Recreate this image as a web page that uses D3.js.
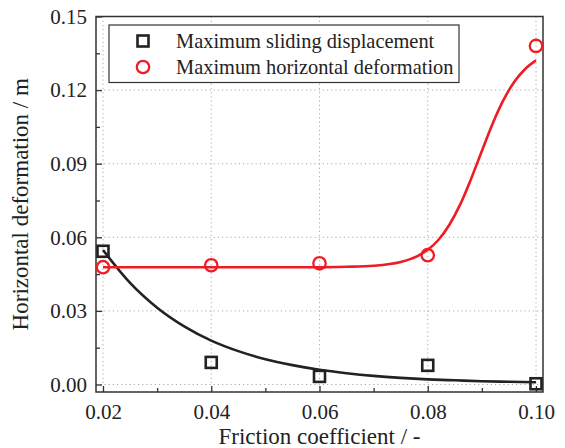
<!DOCTYPE html>
<html>
<head>
<meta charset="utf-8">
<script src="https://cdn.jsdelivr.net/npm/d3@7"></script>
<style>
  html, body { margin: 0; padding: 0; background: #fff; }
  svg { display: block; }
  text { font-family: "Liberation Serif", "Times New Roman", serif; fill: #222; }
</style>
</head>
<body>
<svg id="chart" width="565" height="448"></svg>
<script>
// Friction coefficient levels
const friction = [0.02, 0.04, 0.06, 0.08, 0.10];
// Measured maxima (m)
const slidingDisp = [0.0543, 0.0090, 0.0033, 0.0078, 0.0003];
const horizDeform = [0.0478, 0.0486, 0.0494, 0.0527, 0.1380];

// Fitted trend of the sliding displacement (decay curve)
const slideFitX = [0.020, 0.025, 0.030, 0.035, 0.040, 0.045, 0.050, 0.055, 0.060, 0.065, 0.070, 0.075, 0.080, 0.085, 0.090, 0.095, 0.100];
const slideFitY = [0.0548, 0.0414, 0.0313, 0.0237, 0.0179, 0.0136, 0.0103, 0.0079, 0.0060, 0.0046, 0.0035, 0.0027, 0.0021, 0.0017, 0.0013, 0.0011, 0.0009];

// Fitted trend of the horizontal deformation (S-shaped curve)
const deformFitX = [0.020, 0.030, 0.040, 0.050, 0.060, 0.065, 0.070, 0.075, 0.078, 0.080, 0.082, 0.084, 0.086, 0.088, 0.090, 0.092, 0.094, 0.096, 0.098, 0.100];
const deformFitY = [0.0478, 0.0478, 0.0478, 0.0478, 0.0478, 0.0480, 0.0484, 0.0499, 0.0522, 0.0549, 0.0590, 0.0651, 0.0734, 0.0838, 0.0952, 0.1064, 0.1160, 0.1234, 0.1286, 0.1321];

// Axis ticks
const xTicks = [0.02, 0.04, 0.06, 0.08, 0.10];
const xMinor = [0.03, 0.05, 0.07, 0.09];
const yTicks = [0.00, 0.03, 0.06, 0.09, 0.12, 0.15];
const yMinor = [0.015, 0.045, 0.075, 0.105, 0.135];

const seriesNames = ["Maximum sliding displacement", "Maximum horizontal deformation"];
const seriesColors = ["#222222", "#ee1c25"];

const svg = d3.select("#chart");
const plotL = 96, plotR = 543, plotT = 16.5, plotB = 392;

const x = d3.scaleLinear()
  .domain([0.02 - 7 / 5412.5, 0.10 + 7 / 5412.5])
  .range([plotL, plotR]);
const y = d3.scaleLinear()
  .domain([-7.5 / 2450, 0.15])
  .range([plotB, plotT]);

// dotted grid
const grid = svg.append("g").attr("stroke", "#aaa").attr("stroke-width", 1).attr("stroke-dasharray", "1.2,3");
grid.selectAll("line.v").data(xTicks).join("line").attr("class", "v")
  .attr("x1", d => x(d)).attr("x2", d => x(d))
  .attr("y1", plotT).attr("y2", plotB);
grid.selectAll("line.h").data(yTicks).join("line").attr("class", "h")
  .attr("x1", plotL).attr("x2", plotR)
  .attr("y1", d => y(d)).attr("y2", d => y(d));

// axes with inward ticks
const fmt = d3.format(".2f");
const xAxis = svg.append("g").attr("transform", `translate(0,${plotB})`)
  .call(d3.axisBottom(x).tickValues(xTicks).tickSize(-6).tickPadding(12).tickFormat(fmt));
const xAxisMinor = svg.append("g").attr("transform", `translate(0,${plotB})`)
  .call(d3.axisBottom(x).tickValues(xMinor).tickSize(-4).tickFormat(""));
const yAxis = svg.append("g").attr("transform", `translate(${plotL},0)`)
  .call(d3.axisLeft(y).tickValues(yTicks).tickSize(-6).tickPadding(9).tickFormat(fmt));
const yAxisMinor = svg.append("g").attr("transform", `translate(${plotL},0)`)
  .call(d3.axisLeft(y).tickValues(yMinor).tickSize(-4).tickFormat(""));

[xAxis, xAxisMinor, yAxis, yAxisMinor].forEach(g => {
  g.select(".domain").remove();
  g.selectAll(".tick line").attr("stroke", "#333").attr("stroke-width", 1.3);
  g.selectAll("text").attr("font-family", "Liberation Serif").attr("font-size", 21).attr("fill", "#222");
});

// frame
svg.append("rect")
  .attr("x", plotL).attr("y", plotT)
  .attr("width", plotR - plotL).attr("height", plotB - plotT)
  .attr("fill", "none").attr("stroke", "#333").attr("stroke-width", 1.5);

// fit lines
const line = d3.line().x(d => x(d[0])).y(d => y(d[1])).curve(d3.curveMonotoneX);
svg.append("path")
  .datum(d3.zip(slideFitX, slideFitY))
  .attr("d", line).attr("fill", "none")
  .attr("stroke", seriesColors[0]).attr("stroke-width", 2.6);
svg.append("path")
  .datum(d3.zip(deformFitX, deformFitY))
  .attr("d", line).attr("fill", "none")
  .attr("stroke", seriesColors[1]).attr("stroke-width", 2.6);

// markers
const sq = 11;
svg.append("g").selectAll("rect").data(d3.zip(friction, slidingDisp)).join("rect")
  .attr("x", d => x(d[0]) - sq / 2).attr("y", d => y(d[1]) - sq / 2)
  .attr("width", sq).attr("height", sq)
  .attr("fill", "none").attr("stroke", seriesColors[0]).attr("stroke-width", 2.6);
svg.append("g").selectAll("circle").data(d3.zip(friction, horizDeform)).join("circle")
  .attr("cx", d => x(d[0])).attr("cy", d => y(d[1])).attr("r", 6.2)
  .attr("fill", "none").attr("stroke", seriesColors[1]).attr("stroke-width", 2.3);

// legend
const lg = svg.append("g");
lg.append("rect").attr("x", 109).attr("y", 25).attr("width", 350).attr("height", 57.5)
  .attr("fill", "#fff").attr("stroke", "#333").attr("stroke-width", 1.2);
lg.append("rect").attr("x", 143 - sq / 2).attr("y", 41 - sq / 2).attr("width", sq).attr("height", sq)
  .attr("fill", "none").attr("stroke", seriesColors[0]).attr("stroke-width", 2.6);
lg.append("circle").attr("cx", 143).attr("cy", 67).attr("r", 6.2)
  .attr("fill", "none").attr("stroke", seriesColors[1]).attr("stroke-width", 2.3);
lg.selectAll("text").data(seriesNames).join("text")
  .attr("x", 176).attr("y", (d, i) => 47.5 + i * 26)
  .attr("font-size", 20.4).text(d => d);

// axis titles
svg.append("text")
  .attr("x", (plotL + plotR) / 2).attr("y", 444)
  .attr("text-anchor", "middle").attr("font-size", 23)
  .text("Friction coefficient / -");
svg.append("text")
  .attr("transform", `translate(28,${(plotT + plotB) / 2}) rotate(-90)`)
  .attr("text-anchor", "middle").attr("font-size", 23)
  .text("Horizontal deformation / m");
</script>
</body>
</html>
